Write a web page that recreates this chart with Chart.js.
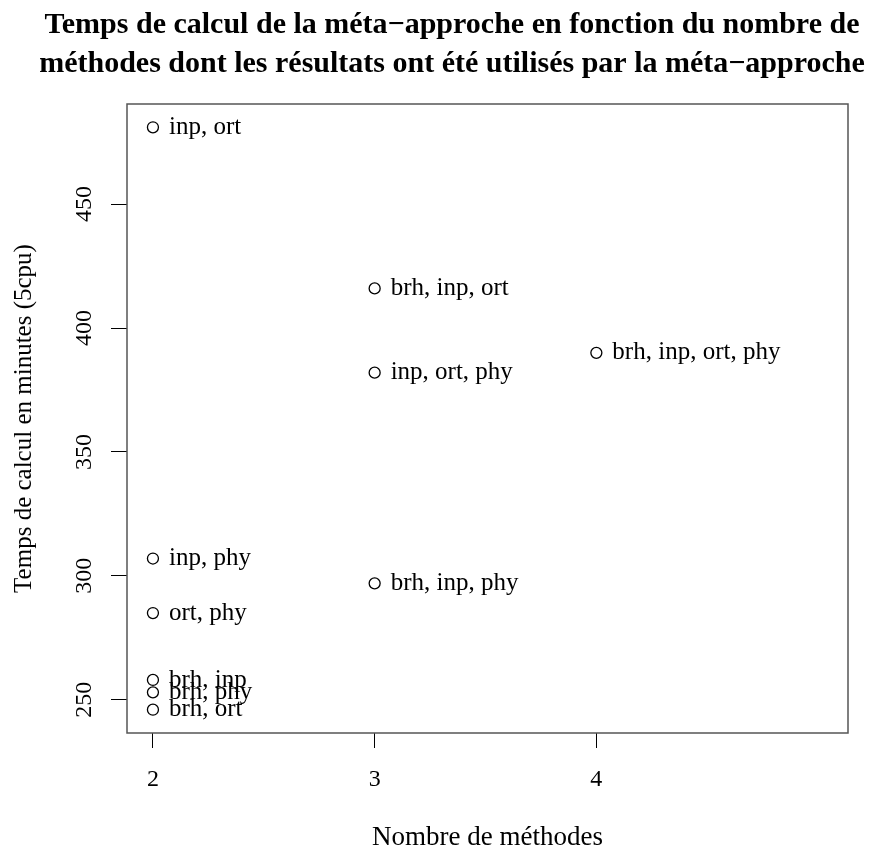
<!DOCTYPE html>
<html>
<head>
<meta charset="utf-8">
<script src="https://cdn.jsdelivr.net/npm/chart.js@4.4.0/dist/chart.umd.min.js"></script>
<style>
  body { margin: 0; background: #fff; }
  canvas { display: block; }
</style>
</head>
<body>
<canvas id="chart" width="889" height="850"></canvas>
<script>
// donnees
const nbMethodes = [2, 2, 2, 2, 2, 2, 3, 3, 3, 4]
const tempsCalcul = [481, 307, 285, 258, 253, 246, 416, 382, 297, 390]
const combinaisons = ['inp, ort', 'inp, phy', 'ort, phy', 'brh, inp', 'brh, phy', 'brh, ort',
  'brh, inp, ort', 'inp, ort, phy', 'brh, inp, phy', 'brh, inp, ort, phy']
const xTicks = [2, 3, 4]
const yTicks = [250, 300, 350, 400, 450]

const serif = '"Liberation Serif", "Times New Roman", serif'

// cadre, etiquettes des points et graduations verticales tournees (facon R)
const rPlot = {
  id: 'rPlot',
  afterDraw(chart) {
    const ctx = chart.ctx
    const a = chart.chartArea
    ctx.save()
    ctx.strokeStyle = '#555'
    ctx.lineWidth = 1.5
    ctx.strokeRect(a.left, a.top, a.right - a.left, a.bottom - a.top)

    ctx.fillStyle = '#000'
    ctx.font = '25px ' + serif
    ctx.textBaseline = 'middle'
    ctx.textAlign = 'left'
    chart.getDatasetMeta(0).data.forEach((pt, i) => {
      ctx.fillText(combinaisons[i], pt.x + 16, pt.y)
    })

    const ys = chart.scales.y
    ctx.font = '24px ' + serif
    ctx.textAlign = 'center'
    yTicks.forEach(v => {
      ctx.save()
      ctx.translate(a.left - 42, ys.getPixelForValue(v))
      ctx.rotate(-Math.PI / 2)
      ctx.fillText(String(v), 0, 0)
      ctx.restore()
    })
    ctx.restore()
  }
}

const points = nbMethodes.map((x, i) => ({ x: x, y: tempsCalcul[i] }))

new Chart(document.getElementById('chart'), {
  type: 'scatter',
  data: {
    datasets: [{
      data: points,
      pointStyle: 'circle',
      pointRadius: 5.5,
      pointBorderWidth: 1.3,
      pointBorderColor: '#000',
      pointBackgroundColor: 'rgba(0,0,0,0)'
    }]
  },
  options: {
    responsive: false,
    animation: false,
    layout: { padding: { left: 15, right: 0, top: 0, bottom: 0 } },
    plugins: {
      legend: { display: false },
      tooltip: { enabled: false },
      title: {
        display: true,
        text: ['Temps de calcul de la méta−approche en fonction du nombre de',
          'méthodes dont les résultats ont été utilisés par la méta−approche'],
        color: '#000',
        font: { family: serif, size: 30, weight: 'bold', lineHeight: 1.3 },
        padding: { top: 6, bottom: 20 }
      }
    },
    scales: {
      x: {
        type: 'linear',
        min: 1.883,
        max: 5.135,
        afterBuildTicks: s => { s.ticks = xTicks.map(v => ({ value: v })) },
        afterFit: s => { s.height = 117 },
        border: { display: false },
        grid: { drawOnChartArea: false, tickLength: 15, color: '#000' },
        ticks: { color: '#000', font: { family: serif, size: 24 }, padding: 17, maxRotation: 0 },
        title: { display: true, text: 'Nombre de méthodes', color: '#000', font: { family: serif, size: 27, lineHeight: 0.9 }, padding: { top: 0, bottom: 0 } }
      },
      y: {
        min: 236.6,
        max: 490.4,
        afterBuildTicks: s => { s.ticks = yTicks.map(v => ({ value: v })) },
        afterFit: s => { s.width = 112 },
        border: { display: false },
        grid: { drawOnChartArea: false, tickLength: 16, color: '#000' },
        ticks: { display: false },
        title: { display: true, text: 'Temps de calcul en minutes (5cpu)', color: '#000', font: { family: serif, size: 25, lineHeight: 1.2 }, padding: { top: -6, bottom: 0 } }
      },
      // marge droite vide
      y2: {
        position: 'right',
        afterFit: s => { s.width = 41 },
        border: { display: false },
        grid: { display: false },
        ticks: { display: false }
      }
    }
  },
  plugins: [rPlot]
})
</script>
</body>
</html>
